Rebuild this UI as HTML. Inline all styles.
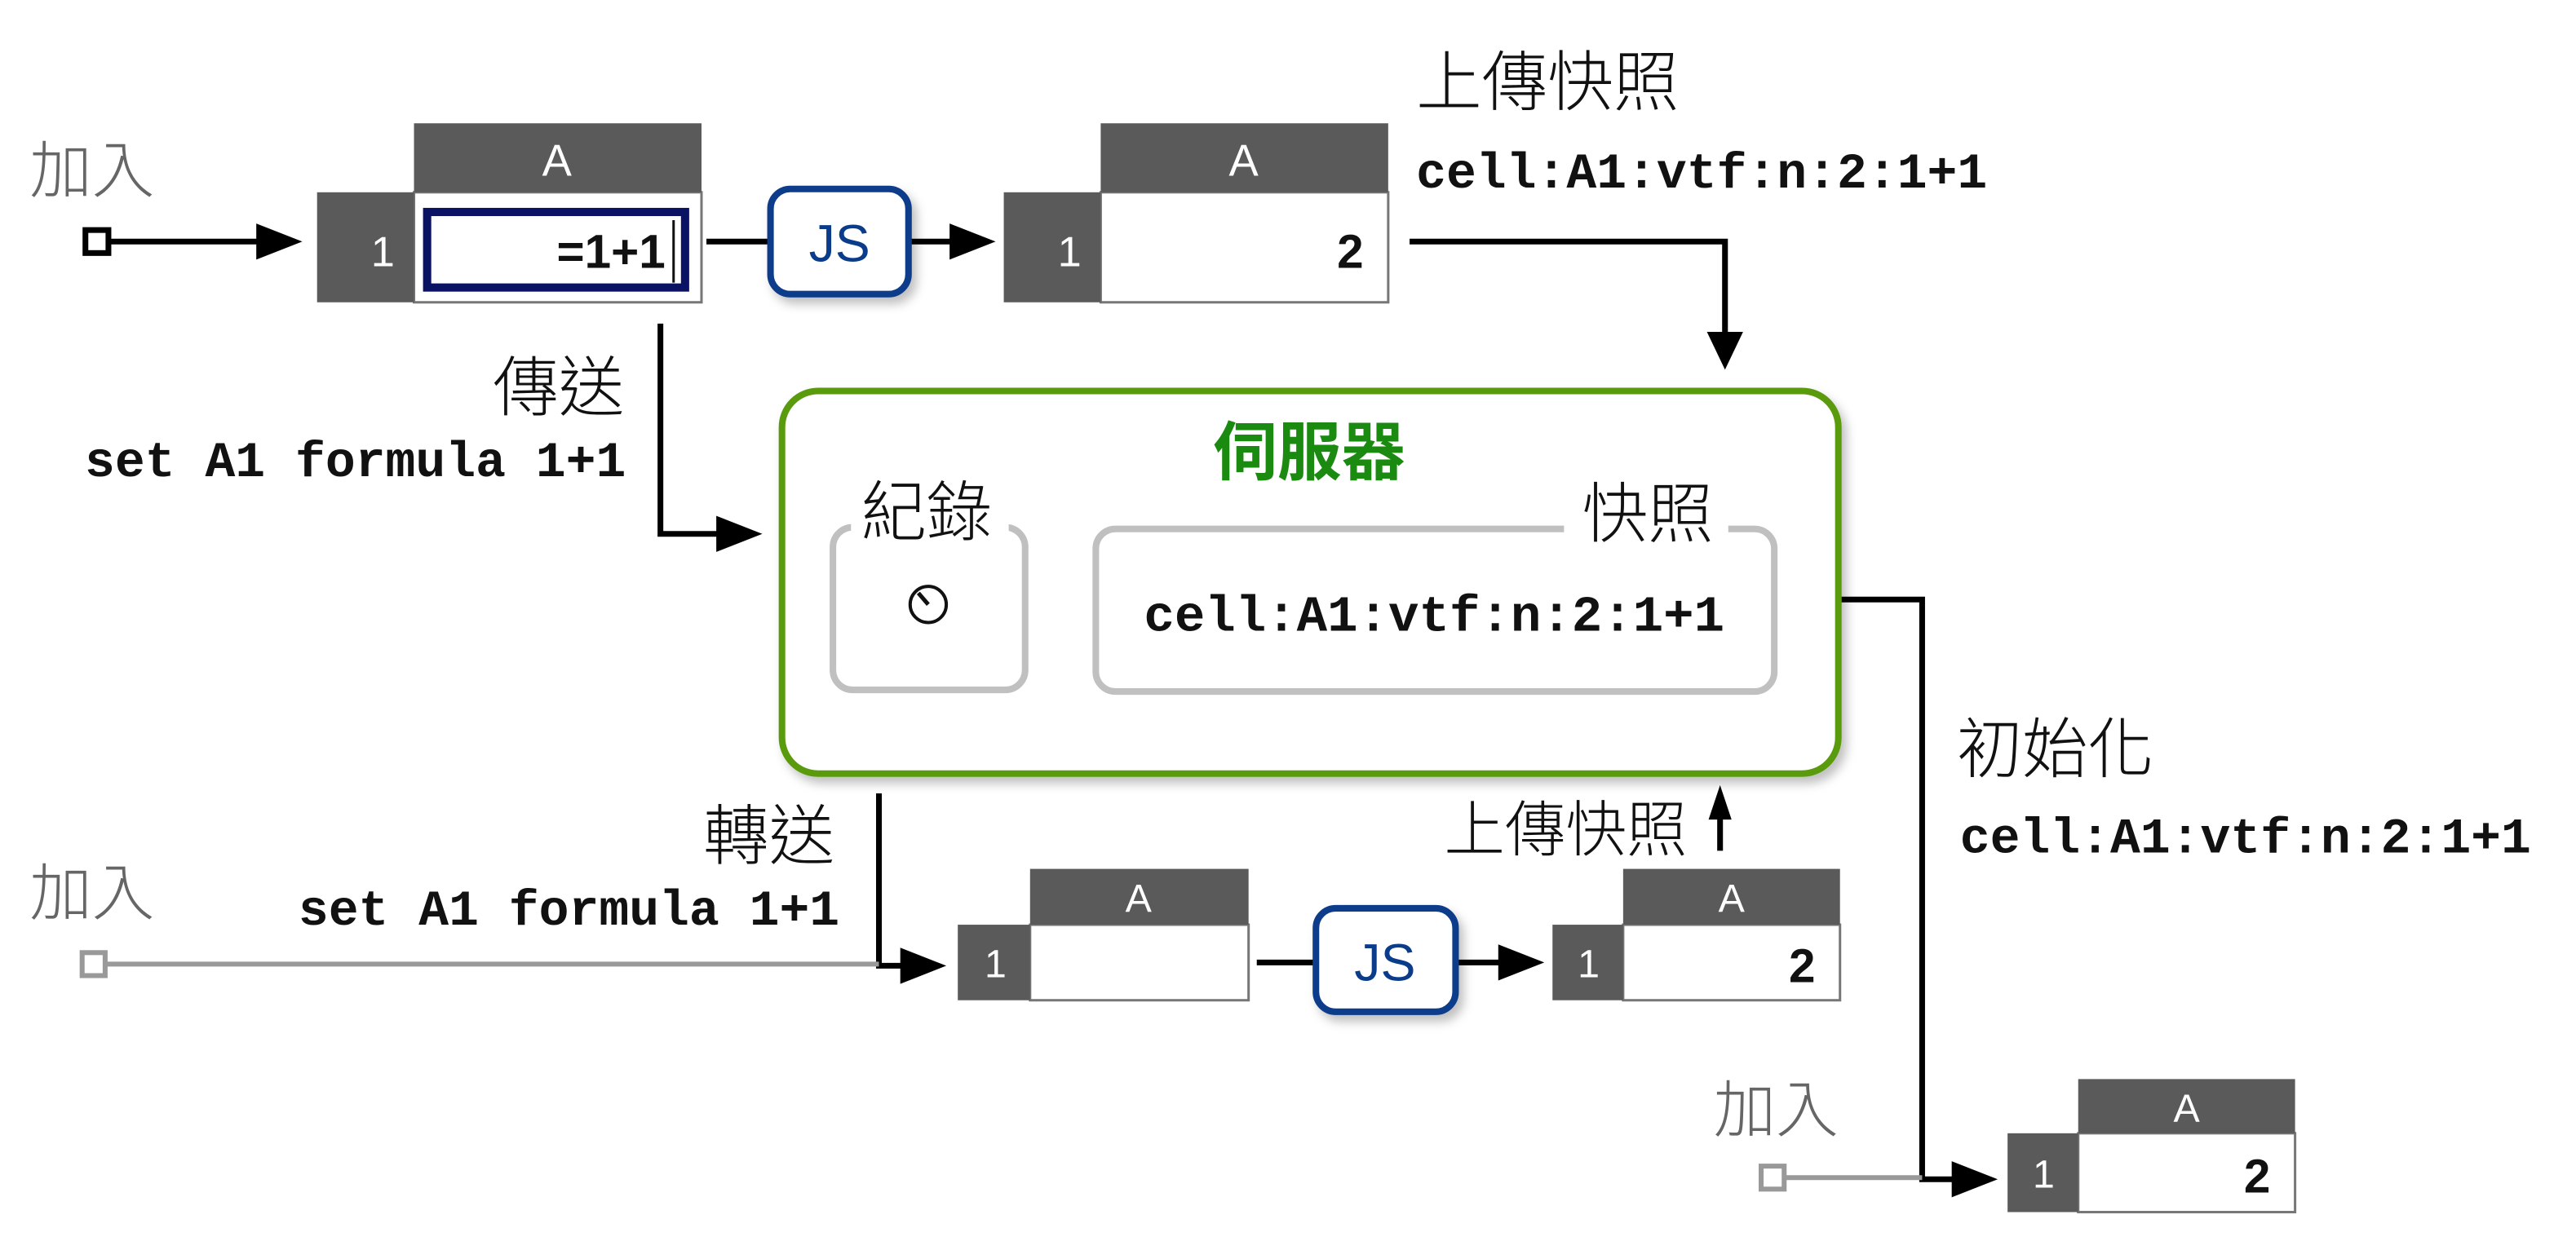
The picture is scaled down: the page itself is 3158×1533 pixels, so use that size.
<!DOCTYPE html>
<html><head><meta charset="utf-8"><style>
html,body{margin:0;padding:0;background:#fff;}
svg{display:block;}
.cjk{font-family:"Liberation Sans","Noto Sans CJK TC",sans-serif;font-weight:300;}
.mono{font-family:"Liberation Mono","DejaVu Sans Mono",monospace;font-weight:bold;}
</style></head><body>
<svg width="3158" height="1533" viewBox="0 0 1568 761" xmlns="http://www.w3.org/2000/svg">
<defs>
<filter id="sh" x="-20%" y="-20%" width="150%" height="160%"><feDropShadow dx="3" dy="4" stdDeviation="3" flood-color="#000" flood-opacity="0.25"/></filter>
</defs>
<g class="cjk" font-size="38" fill="#666">
<text x="18" y="117">加入</text>
<text x="18" y="557">加入</text>
<text x="1043" y="689">加入</text>
</g>
<g class="cjk" font-size="40" fill="#111">
<text x="862" y="64">上傳快照</text>
<text x="380" y="250" text-anchor="end">傳送</text>
<text x="508" y="523" text-anchor="end">轉送</text>
<text x="879" y="518" font-size="37">上傳快照</text>
<text x="1191" y="470">初始化</text>
</g>
<g class="mono" font-size="30.5" fill="#111">
<text x="862" y="114">cell:A1:vtf:n:2:1+1</text>
<text x="381" y="290" text-anchor="end">set A1 formula 1+1</text>
<text x="511" y="563" text-anchor="end">set A1 formula 1+1</text>
<text x="1193" y="519">cell:A1:vtf:n:2:1+1</text>
</g>
<g stroke="#000" stroke-width="3.5" fill="none">
<path d="M66,147 H160"/>
<path d="M430,147 H468"/>
<path d="M554,147 H580"/>
<path d="M858,147 H1050 V205"/>
<path d="M402,197 V325 H438"/>
<path d="M1120,365 H1170 V718 H1192"/>
<path d="M535,483 V588 H552"/>
<path d="M765,586 H800"/>
<path d="M887,586 H915"/>
<path d="M1047,518 V495"/>
</g>
<g stroke="#999" stroke-width="3" fill="none">
<path d="M64,587 H535"/>
<path d="M1086,717 H1170"/>
</g>
<rect x="52" y="140" width="14" height="14" fill="#fff" stroke="#000" stroke-width="3.5"/>
<rect x="50" y="580" width="14" height="14" fill="#fff" stroke="#999" stroke-width="3"/>
<rect x="1072" y="710" width="14" height="14" fill="#fff" stroke="#999" stroke-width="3"/>
<g fill="#000">
<path d="M156,136 L184,147 L156,158Z"/>
<path d="M578,136 L606,147 L578,158Z"/>
<path d="M1039,202 L1050,225 L1061,202Z"/>
<path d="M436,314 L464,325 L436,336Z"/>
<path d="M1188,707 L1216,718 L1188,729Z"/>
<path d="M548,577 L576,588 L548,599Z"/>
<path d="M912,575 L940,586 L912,597Z"/>
<path d="M1040,499 L1047,478 L1054,499Z"/>
</g>
<rect x="252" y="117" width="175" height="67" fill="#fff" stroke="#777" stroke-width="1.5"/>
<rect x="252" y="75" width="175" height="42" fill="#5a5a5a"/>
<rect x="193" y="117" width="59" height="67" fill="#5a5a5a"/>
<text x="339" y="107" font-family="Liberation Sans" font-size="27" fill="#fff" text-anchor="middle">A</text>
<text x="233" y="162" font-family="Liberation Sans" font-size="26" fill="#fff" text-anchor="middle">1</text>
<rect x="260" y="129" width="157" height="46" fill="none" stroke="#0a1264" stroke-width="5"/>
<text x="405" y="163" font-family="Liberation Sans" font-weight="bold" font-size="29" fill="#111" text-anchor="end">=1+1</text>
<line x1="410" y1="134" x2="410" y2="172" stroke="#111" stroke-width="1.5"/>
<rect x="469" y="115" width="84" height="64" rx="12" fill="#fff" stroke="#0a3c8a" stroke-width="4" filter="url(#sh)"/>
<text x="511" y="159" font-family="Liberation Sans" font-size="32" fill="#0a3c8a" text-anchor="middle">JS</text>
<rect x="670" y="117" width="175" height="67" fill="#fff" stroke="#777" stroke-width="1.5"/>
<rect x="670" y="75" width="175" height="42" fill="#5a5a5a"/>
<rect x="611" y="117" width="59" height="67" fill="#5a5a5a"/>
<text x="757" y="107" font-family="Liberation Sans" font-size="27" fill="#fff" text-anchor="middle">A</text>
<text x="651" y="162" font-family="Liberation Sans" font-size="26" fill="#fff" text-anchor="middle">1</text>
<text x="830" y="163" font-family="Liberation Sans" font-weight="bold" font-size="29" fill="#111" text-anchor="end">2</text>
<rect x="476" y="238" width="643" height="233" rx="22" fill="#fff" stroke="#5a9a10" stroke-width="4" filter="url(#sh)"/>
<text x="797" y="289" class="cjk" font-size="39" fill="#1a8a10" text-anchor="middle" style="font-weight:bold">伺服器</text>
<rect x="507" y="321" width="117" height="99" rx="12" fill="#fff" stroke="#c0c0c0" stroke-width="4"/>
<rect x="518" y="295" width="96" height="36" fill="#fff"/>
<text x="564" y="326" class="cjk" font-size="40" fill="#111" text-anchor="middle">紀錄</text>
<circle cx="565" cy="368" r="11" fill="#fff" stroke="#111" stroke-width="2"/>
<line x1="565" y1="368" x2="559" y2="361" stroke="#111" stroke-width="2.5"/>
<rect x="667" y="322" width="413" height="99" rx="12" fill="#fff" stroke="#c0c0c0" stroke-width="4"/>
<rect x="952" y="295" width="100" height="36" fill="#fff"/>
<text x="1003" y="327" class="cjk" font-size="40" fill="#111" text-anchor="middle">快照</text>
<text x="873" y="384" class="mono" font-size="31" fill="#111" text-anchor="middle">cell:A1:vtf:n:2:1+1</text>
<rect x="627" y="563" width="133" height="46" fill="#fff" stroke="#777" stroke-width="1.5"/>
<rect x="627" y="529" width="133" height="34" fill="#5a5a5a"/>
<rect x="583" y="563" width="44" height="46" fill="#5a5a5a"/>
<text x="693" y="555" font-family="Liberation Sans" font-size="24" fill="#fff" text-anchor="middle">A</text>
<text x="606" y="595" font-family="Liberation Sans" font-size="24" fill="#fff" text-anchor="middle">1</text>
<rect x="801" y="553" width="85" height="63" rx="12" fill="#fff" stroke="#0a3c8a" stroke-width="4" filter="url(#sh)"/>
<text x="843" y="597" font-family="Liberation Sans" font-size="32" fill="#0a3c8a" text-anchor="middle">JS</text>
<rect x="988" y="563" width="132" height="46" fill="#fff" stroke="#777" stroke-width="1.5"/>
<rect x="988" y="529" width="132" height="34" fill="#5a5a5a"/>
<rect x="945" y="563" width="43" height="46" fill="#5a5a5a"/>
<text x="1054" y="555" font-family="Liberation Sans" font-size="24" fill="#fff" text-anchor="middle">A</text>
<text x="967" y="595" font-family="Liberation Sans" font-size="24" fill="#fff" text-anchor="middle">1</text>
<text x="1105" y="598" font-family="Liberation Sans" font-weight="bold" font-size="29" fill="#111" text-anchor="end">2</text>
<rect x="1265" y="690" width="132" height="48" fill="#fff" stroke="#777" stroke-width="1.5"/>
<rect x="1265" y="657" width="132" height="33" fill="#5a5a5a"/>
<rect x="1222" y="690" width="43" height="48" fill="#5a5a5a"/>
<text x="1331" y="683" font-family="Liberation Sans" font-size="24" fill="#fff" text-anchor="middle">A</text>
<text x="1244" y="723" font-family="Liberation Sans" font-size="24" fill="#fff" text-anchor="middle">1</text>
<text x="1382" y="726" font-family="Liberation Sans" font-weight="bold" font-size="29" fill="#111" text-anchor="end">2</text>
</svg>
</body></html>
